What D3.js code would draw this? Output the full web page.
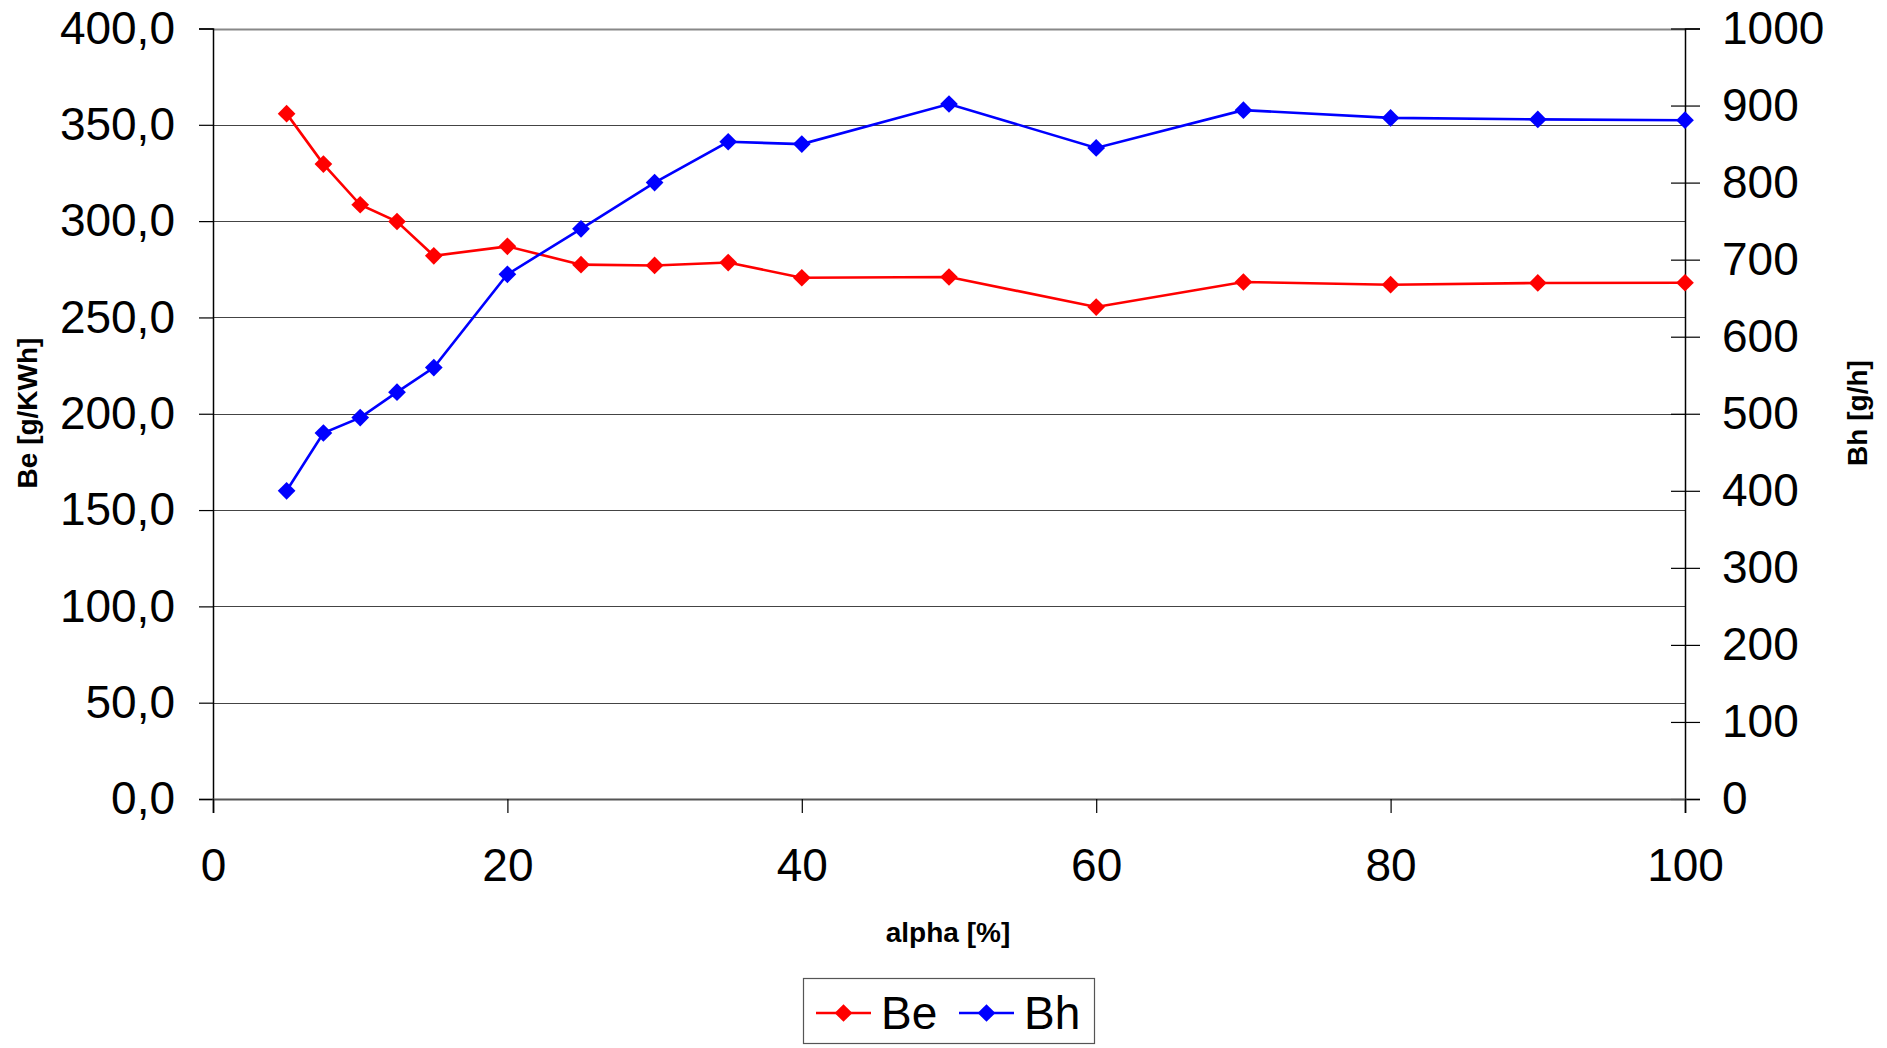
<!DOCTYPE html>
<html>
<head>
<meta charset="utf-8">
<script src="https://cdn.jsdelivr.net/npm/d3@7"></script>
<style>
  html, body { margin: 0; padding: 0; background: #fff; }
  svg { display: block; font-family: "Liberation Sans", Arial, Helvetica, sans-serif; }
</style>
</head>
<body>
<svg id="chart" width="1887" height="1048"></svg>
<script>
// ---- data ----
const alpha = [5, 7.5, 10, 12.5, 15, 20, 25, 30, 35, 40, 50, 60, 70, 80, 90, 100];
const beValues = [355.8, 329.6, 308.5, 299.8, 282.0, 286.9, 277.4, 277.0, 278.5, 270.6, 271.0, 255.4, 268.4, 267.0, 267.9, 268.0];
const bhValues = [400, 475, 495, 528, 560, 681, 740, 800, 853, 850, 902, 845, 894, 884, 882, 881];
const xTicks = [0, 20, 40, 60, 80, 100];
const leftTicks = [0, 50, 100, 150, 200, 250, 300, 350, 400];
const rightTicks = [0, 100, 200, 300, 400, 500, 600, 700, 800, 900, 1000];
const seriesNames = ["Be", "Bh"];
const seriesColors = ["#ff0000", "#0000ff"];
const xTitle = "alpha [%]";
const leftTitle = "Be [g/KWh]";
const rightTitle = "Bh [g/h]";

// ---- layout ----
const svg = d3.select("#chart");
const L = 213, R = 1685, T = 28.5, B = 799;

const x = d3.scaleLinear().domain([0, 100]).range([L, R]);
const yL = d3.scaleLinear().domain([0, 400]).range([B, T]);
const yR = d3.scaleLinear().domain([0, 1000]).range([B, T]);
const fmtL = v => d3.format(".1f")(v).replace(".", ",");

// gridlines
svg.append("g").selectAll("line").data(leftTicks.filter(d => d > 0)).join("line")
  .attr("x1", L).attr("x2", R)
  .attr("y1", d => Math.round(yL(d)) + 0.5).attr("y2", d => Math.round(yL(d)) + 0.5)
  .attr("stroke", d => d === 400 ? "#888" : "#444").attr("stroke-width", d => d === 400 ? 2 : 1.2);

// left axis
const gL = svg.append("g").attr("transform", `translate(${L},0)`)
  .call(d3.axisLeft(yL).tickValues(leftTicks).tickFormat(fmtL).tickSize(14).tickPadding(24));
gL.select(".domain").attr("stroke", "#000").attr("stroke-width", 1.5);
gL.selectAll(".tick line").attr("stroke", "#000").attr("stroke-width", 1.2);
gL.selectAll(".tick text").attr("font-size", 46).attr("fill", "#000")
  .attr("font-family", "'Liberation Sans', Arial, sans-serif");

// right axis
const gR = svg.append("g").attr("transform", `translate(${R},0)`)
  .call(d3.axisRight(yR).tickValues(rightTicks).tickFormat(d3.format("d")).tickSize(15).tickPadding(22));
gR.select(".domain").attr("stroke", "#000").attr("stroke-width", 1.5);
gR.selectAll(".tick line").attr("stroke", "#000").attr("stroke-width", 1.2).attr("x1", -14);
gR.selectAll(".tick text").attr("font-size", 46).attr("fill", "#000")
  .attr("font-family", "'Liberation Sans', Arial, sans-serif");

// x axis
const gX = svg.append("g").attr("transform", `translate(0,${B})`)
  .call(d3.axisBottom(x).tickValues(xTicks).tickFormat(d3.format("d")).tickSize(14).tickPadding(35));
gX.select(".domain").attr("stroke", "#555").attr("stroke-width", 2);
gX.selectAll(".tick line").attr("stroke", "#000").attr("stroke-width", 1.2);
gX.selectAll(".tick text").attr("font-size", 46).attr("fill", "#000")
  .attr("font-family", "'Liberation Sans', Arial, sans-serif");

// axis titles
svg.append("text").attr("x", 948).attr("y", 942).attr("text-anchor", "middle")
  .attr("font-size", 28).attr("font-weight", "bold").text(xTitle);
svg.append("text").attr("transform", "translate(37,413) rotate(-90)").attr("text-anchor", "middle")
  .attr("font-size", 28).attr("font-weight", "bold").text(leftTitle);
svg.append("text").attr("transform", "translate(1867,413) rotate(-90)").attr("text-anchor", "middle")
  .attr("font-size", 28).attr("font-weight", "bold").text(rightTitle);

// series
const diamond = d3.symbol().type(d3.symbolDiamond2).size(200);
function drawSeries(vals, yScale, color) {
  const pts = alpha.map((a, i) => [a, vals[i]]);
  svg.append("path").datum(pts)
    .attr("fill", "none").attr("stroke", color).attr("stroke-width", 2.6)
    .attr("d", d3.line().x(d => x(d[0])).y(d => yScale(d[1])));
  svg.append("g").selectAll("path").data(pts).join("path")
    .attr("d", diamond).attr("fill", color)
    .attr("transform", d => `translate(${x(d[0])},${yScale(d[1])})`);
}
drawSeries(beValues, yL, seriesColors[0]);
drawSeries(bhValues, yR, seriesColors[1]);

// legend
const lg = svg.append("g");
lg.append("rect").attr("x", 803.5).attr("y", 978.5).attr("width", 291).attr("height", 65)
  .attr("fill", "#fff").attr("stroke", "#555").attr("stroke-width", 1.2);
const legItems = [{x1: 816, x2: 871, tx: 881}, {x1: 959, x2: 1014, tx: 1024}];
legItems.forEach((it, i) => {
  const cy = 1013;
  lg.append("line").attr("x1", it.x1).attr("x2", it.x2).attr("y1", cy).attr("y2", cy)
    .attr("stroke", seriesColors[i]).attr("stroke-width", 2.6);
  lg.append("path").attr("d", diamond).attr("fill", seriesColors[i])
    .attr("transform", `translate(${(it.x1 + it.x2) / 2},${cy})`);
  lg.append("text").attr("x", it.tx).attr("y", cy + 16).attr("font-size", 46)
    .attr("fill", "#000").text(seriesNames[i]);
});
</script>
</body>
</html>
